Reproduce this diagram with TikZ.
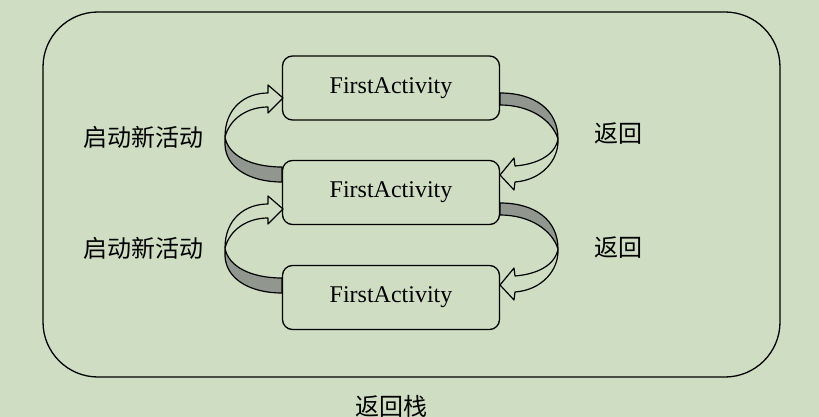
\documentclass[tikz,border=0pt]{standalone}
\usepackage{fontspec}
\setmainfont{Liberation Serif}
\newfontfamily\cjk{Noto Sans CJK SC}
\definecolor{bgc}{RGB}{207,222,195}
\definecolor{shadec}{RGB}{145,150,143}
\begin{document}
\begin{tikzpicture}[x=1pt,y=-1pt,
  actbox/.style={draw=black,line width=1.3pt,rounded corners=10pt,minimum width=217pt,minimum height=64pt,inner sep=0pt,font=\fontsize{24}{28}\selectfont},
  lbl/.style={font=\cjk\fontsize{24}{27}\selectfont,inner sep=0pt},
  band/.style={draw=black,line width=1.2pt,line join=round},
  shadeband/.style={band,fill=shadec},
  leftarr/.pic={
    \draw[shadeband] (225,137) .. controls (228,155) and (250,167) .. (282,167)
       -- (282,182) .. controls (250,182) and (226,168) .. (225,145) -- cycle;
    \draw[band] (225,137) .. controls (225,108) and (245,93) .. (268,93)
       -- (268,85) -- (283,98) -- (268,113) -- (268,107)
       .. controls (248,107) and (230,118) .. (225,137);
  },
  rightarr/.pic={
    \draw[shadeband] (500,93) .. controls (535,93) and (558,110) .. (558,139)
       .. controls (552,120) and (530,105) .. (500,105) -- cycle;
    \draw[band] (558,139) .. controls (559,160) and (542,180) .. (515,182)
       -- (514,190) -- (500,175) -- (514,158) -- (515,166)
       .. controls (538,164) and (555,155) .. (558,139);
  }]
\fill[bgc] (0,0) rectangle (819,417);
\useasboundingbox (0,0) rectangle (819,417);
\draw[line width=1.3pt,rounded corners=55pt] (43,12) rectangle (780,377);
\node[actbox] (b1) at (391,88) {FirstActivity};
\node[actbox] (b2) at (391,192.5) {FirstActivity};
\node[actbox] (b3) at (391,297.5) {FirstActivity};
\pic at (0,0) {leftarr};
\pic at (0,111) {leftarr};
\pic at (0,0) {rightarr};
\pic at (0,110) {rightarr};
\node[lbl] (s1) at (143,137) {启动新活动};
\node[lbl] (s2) at (143,248) {启动新活动};
\node[lbl] (r1) at (618,134) {返回};
\node[lbl] (r2) at (618,248) {返回};
\node[lbl] (st) at (391,406) {返回栈};
\end{tikzpicture}
\end{document}
